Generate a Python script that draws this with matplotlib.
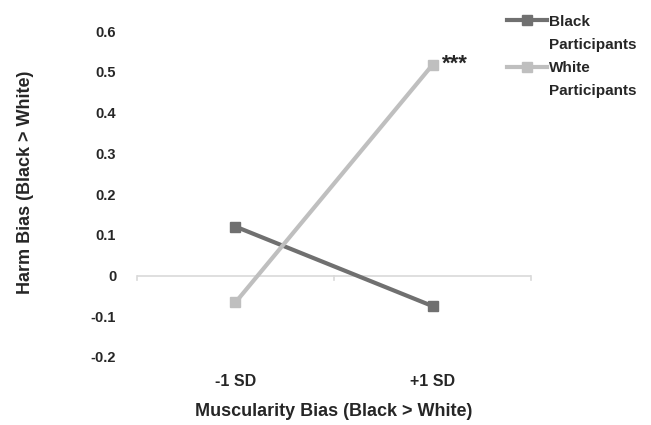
import matplotlib
matplotlib.use("Agg")
import matplotlib.pyplot as plt
from matplotlib.lines import Line2D

categories = ["-1 SD", "+1 SD"]
black = [0.12, -0.075]
white = [-0.066, 0.517]
yticks = [-0.2, -0.1, 0, 0.1, 0.2, 0.3, 0.4, 0.5, 0.6]
yticklabels = ["-0.2", "-0.1", "0", "0.1", "0.2", "0.3", "0.4", "0.5", "0.6"]

plt.rcParams['font.family'] = ['Liberation Sans', 'DejaVu Sans']
plt.rcParams['font.weight'] = 'bold'

fig = plt.figure(figsize=(6.51, 4.25), dpi=100)
ax = fig.add_axes([0.2104, 0.16, 0.6053, 0.767])

x = list(range(len(categories)))
hb, = ax.plot(x, black, color="#707070", lw=3, marker="s", ms=7.5)
hw, = ax.plot(x, white, color="#BFBFBF", lw=3, marker="s", ms=7.5)

ax.set_xlim(-0.5, 1.5)
ax.set_ylim(-0.2, 0.6)
ax.set_yticks(yticks)
ax.set_yticklabels(yticklabels, fontsize=10.5, fontweight="bold", color="#262626")
ax.set_xticks(x)
ax.set_xticklabels(categories, fontsize=11.5, fontweight="bold", color="#262626")
ax.tick_params(axis="y", length=0, pad=15)
ax.tick_params(axis="x", length=0, pad=12)

for s in ax.spines.values():
    s.set_visible(False)
ax.axhline(0, color="#D9D9D9", lw=1.2, zorder=0)
for t in [-0.5, 0.5, 1.5]:
    ax.plot([t, t], [0, -0.012], color="#D9D9D9", lw=1.2, zorder=0, clip_on=False)

ax.set_ylabel("Harm Bias (Black > White)", fontsize=13, fontweight="bold", color="#262626")
ax.yaxis.label.set_va("center")
ax.yaxis.set_label_coords(-0.284, 0.537)
ax.set_xlabel("Muscularity Bias (Black > White)", fontsize=13, fontweight="bold", color="#262626")
ax.xaxis.set_label_coords(0.5, -0.142)

ax.annotate("***", xy=(x[1], white[1]), xytext=(7, -3.5), textcoords="offset points",
            fontsize=16, fontweight="bold", color="#262626")

blank = Line2D([], [], color="none")
leg = ax.legend([hb, blank, hw, blank], ["Black", "Participants", "White", "Participants"],
                loc="upper left", bbox_to_anchor=(0.94, 1.05), frameon=False, fontsize=11,
                handlelength=2.6, handletextpad=0.1, labelspacing=0.6, borderaxespad=0,
                borderpad=0)
for t in leg.get_texts():
    t.set_color("#262626")

fig.savefig("out.png", dpi=100)
